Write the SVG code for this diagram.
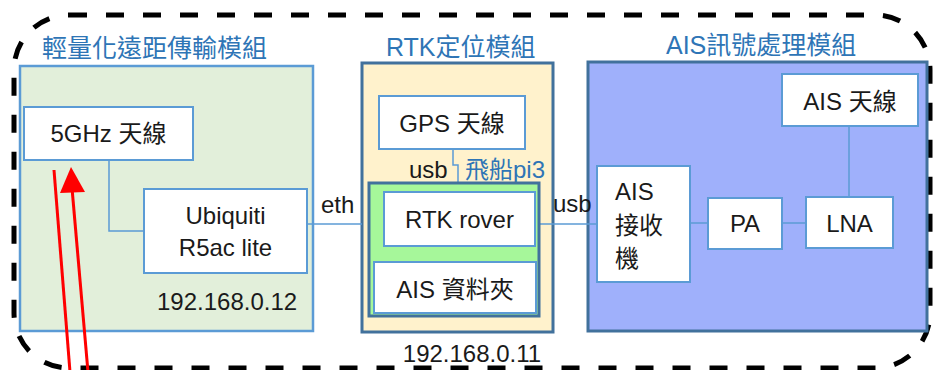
<svg xmlns="http://www.w3.org/2000/svg" width="935" height="370" viewBox="0 0 935 370">
<style>
.t{font-family:"Liberation Sans","Noto Sans CJK TC",sans-serif;font-size:24px;fill:#1a1a1a}
.c{text-anchor:middle}
.title{font-family:"Liberation Sans","Noto Sans CJK TC",sans-serif;font-size:25px;fill:#2E75B6}
.box{fill:#fff;stroke:#5B9BD5;stroke-width:2}
.mod{stroke:#41719C;stroke-width:3}
.ln{fill:none;stroke:#5B9BD5;stroke-width:1.5}
</style>
<rect x="14" y="15" width="916" height="353" rx="55" fill="none" stroke="#000" stroke-width="5" stroke-dasharray="18 19"/>

<g id="module-transmit">
<rect x="20" y="66" width="293" height="265" fill="#E2EFDA" stroke="#5B9BD5" stroke-width="2.5"/>
<text class="title" x="42" y="57">輕量化遠距傳輸模組</text>
<text class="t" x="157" y="310">192.168.0.12</text>
</g>
<g id="module-rtk">
<rect class="mod" x="362" y="63" width="191" height="269" fill="#FFF2CC"/>
<text class="title" x="386" y="56">RTK定位模組</text>
<text class="t c" x="472" y="362">192.168.0.11</text>
</g>
<g id="module-ais">
<rect class="mod" x="588" y="62" width="339" height="269" fill="#9FB0FB"/>
<text class="title" x="666" y="54">AIS訊號處理模組</text>
</g>

<g id="connectors">
<path class="ln" d="M109,160 V231 H144"/>
<path class="ln" d="M307,224 H362"/>
<path class="ln" d="M453,149 V165 H458 V183"/>
<path class="ln" d="M539,224 H597"/>
<path class="ln" d="M690,223 H708"/>
<path class="ln" d="M782,223 H806"/>
<path class="ln" d="M849,126 V197"/>
<text class="t" x="321" y="213">eth</text>
<text class="t" x="409" y="178">usb</text>
<text class="t" x="553" y="212">usb</text>
<text class="t" x="465" y="178" style="fill:#2E75B6">飛船pi3</text>
<line x1="54" y1="170" x2="70" y2="372" stroke="#FF0000" stroke-width="3"/>
<line x1="88" y1="372" x2="72" y2="188" stroke="#FF0000" stroke-width="3"/>
<polygon points="71,167 60,193 85,192" fill="#FF0000"/>
</g>

<g id="antenna-5ghz">
<rect class="box" x="24" y="107" width="169" height="53"/>
<text class="t c" x="108.5" y="142">5GHz 天線</text>
</g>
<g id="ubiquiti">
<rect class="box" x="144" y="189" width="163" height="84"/>
<text class="t c" x="225.5" y="224">Ubiquiti</text>
<text class="t c" x="225.5" y="256">R5ac lite</text>
</g>
<g id="gps-antenna">
<rect class="box" x="379" y="96" width="146" height="53"/>
<text class="t c" x="452" y="132">GPS 天線</text>
</g>
<g id="pi3">
<rect x="369" y="183" width="170" height="133" fill="#A6F79A" stroke="#41719C" stroke-width="3"/>
</g>
<g id="rtk-rover">
<rect class="box" x="384" y="192" width="151" height="54"/>
<text class="t c" x="459.5" y="228">RTK rover</text>
</g>
<g id="ais-folder">
<rect class="box" x="374" y="262" width="162" height="51"/>
<text class="t c" x="455" y="298">AIS 資料夾</text>
</g>
<g id="ais-receiver">
<rect class="box" x="597" y="166" width="93" height="116"/>
<text class="t" x="615" y="200">AIS</text>
<text class="t" x="615" y="234">接收</text>
<text class="t" x="615" y="267">機</text>
</g>
<g id="pa">
<rect class="box" x="708" y="198" width="74" height="51"/>
<text class="t c" x="745" y="232">PA</text>
</g>
<g id="lna">
<rect class="box" x="806" y="197" width="87" height="51"/>
<text class="t c" x="849.5" y="232">LNA</text>
</g>
<g id="ais-antenna">
<rect class="box" x="782" y="74" width="136" height="52"/>
<text class="t c" x="850" y="110">AIS 天線</text>
</g>
</svg>
